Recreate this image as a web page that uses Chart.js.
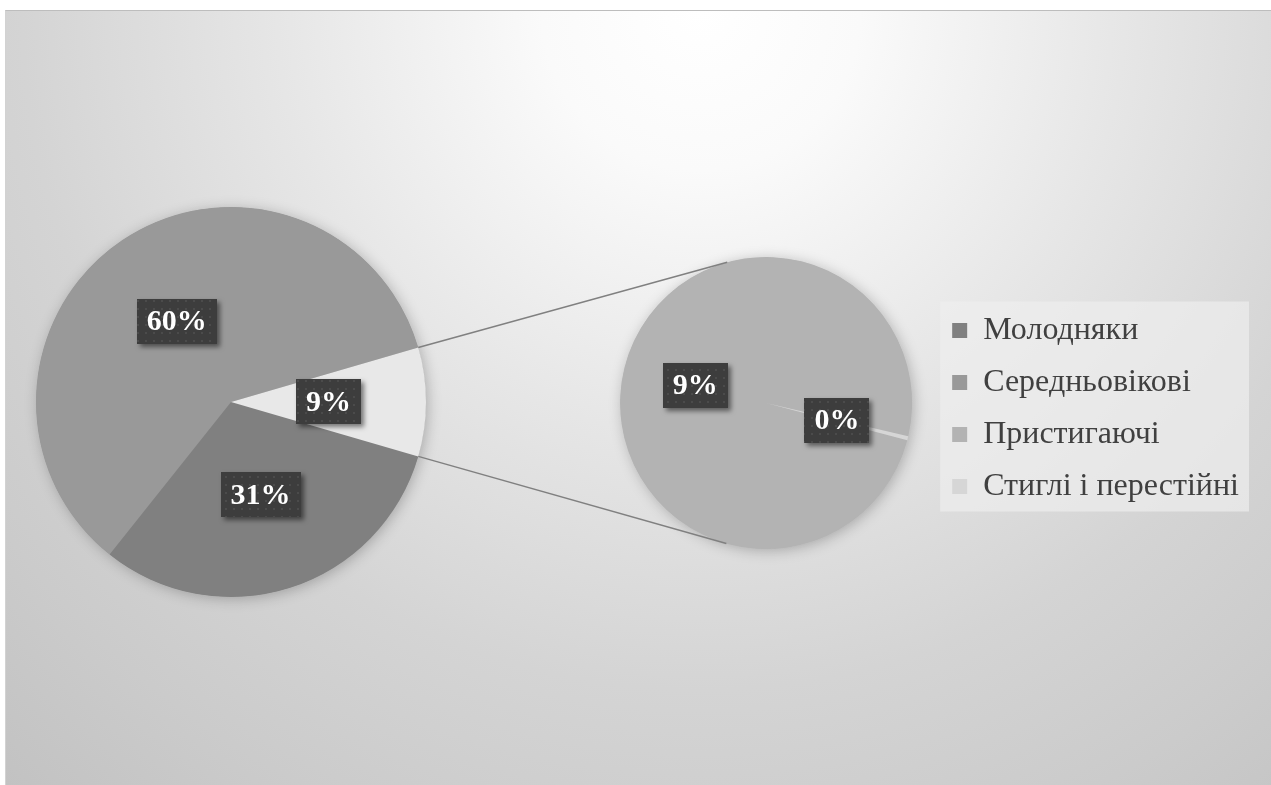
<!DOCTYPE html>
<html lang="uk">
<head>
<meta charset="utf-8">
<title>Розподіл за групами віку</title>
<script src="https://cdn.jsdelivr.net/npm/chart.js@4.4.1/dist/chart.umd.min.js"></script>
<style>
  html, body { margin: 0; padding: 0; background: #fff; overflow: hidden; }
  #stage { position: relative; width: 1271px; height: 785px; }
  #frame {
    position: absolute; left: 5px; top: 10px; width: 1270px; height: 780px;
    border-top: 1px solid #bdbdbd; border-left: 1px solid #d2d2d2;
    background: radial-gradient(circle 1060px at 695px 0px, #ffffff 0%, #fafafa 15%, #e6e6e6 40%, #d4d4d4 64%, #cbcbcb 82%, #c1c1c1 100%);
  }
  .box { position: absolute; }
  #mainBox { left: 6px; top: 177px; width: 450px; height: 450px; }
  #subBox { left: 600px; top: 230px; width: 649px; height: 344px; }
  #links { position: absolute; left: 0; top: 0; width: 1271px; height: 785px; pointer-events: none; }
</style>
</head>
<body>
<div id="stage">
  <div id="frame"></div>
  <div class="box" id="mainBox"><canvas id="mainChart"></canvas></div>
  <div class="box" id="subBox"><canvas id="subChart"></canvas></div>
  <canvas id="links"></canvas>
</div>
<script>
(function () {
  'use strict';

  // дані
  var categories = ['Молодняки', 'Середньовікові', 'Пристигаючі', 'Стиглі і перестійні'];
  var shares = [31.2, 59.8, 8.96, 0.04];
  var sliceColors = ['#808080', '#999999', '#b3b3b3', '#d6d6d6'];
  var otherLabel = 'Інші';
  var otherColor = '#e8e8e8';
  var splitAt = 2; // скільки категорій лишається в основному колі

  var total = shares.reduce(function (a, b) { return a + b; }, 0);
  var subValues = shares.slice(splitAt);
  var otherValue = subValues.reduce(function (a, b) { return a + b; }, 0);
  var mainValues = shares.slice(0, splitAt).concat([otherValue]);
  var mainLabels = categories.slice(0, splitAt).concat([otherLabel]);
  var mainColors = sliceColors.slice(0, splitAt).concat([otherColor]);
  var subLabels = categories.slice(splitAt);
  var subColors = sliceColors.slice(splitAt);

  var serif = '"Liberation Serif", "Times New Roman", serif';
  var textColor = '#404040';

  // крапчастий фон для підписів
  var patCanvas = document.createElement('canvas');
  patCanvas.width = 8; patCanvas.height = 8;
  var pctx = patCanvas.getContext('2d');
  pctx.fillStyle = '#3d3d3d'; pctx.fillRect(0, 0, 8, 8);
  pctx.fillStyle = '#4b4b4b'; pctx.fillRect(3, 3, 2, 2);

  var pct = function (v) { return Math.round(v / total * 100) + '%'; };

  var labelBoxes = {
    id: 'labelBoxes',
    afterDatasetsDraw: function (chart) {
      var ctx = chart.ctx;
      var meta = chart.getDatasetMeta(0);
      var values = chart.data.datasets[0].data;
      ctx.save();
      ctx.font = 'bold 30px ' + serif;
      meta.data.forEach(function (arc, i) {
        var p = arc.tooltipPosition();
        var txt = pct(values[i]);
        var w = ctx.measureText(txt).width + 20, h = 45;
        ctx.save();
        ctx.shadowColor = 'rgba(0,0,0,0.5)';
        ctx.shadowBlur = 5; ctx.shadowOffsetX = 3; ctx.shadowOffsetY = 3;
        ctx.fillStyle = ctx.createPattern(patCanvas, 'repeat');
        ctx.fillRect(Math.round(p.x - w / 2), Math.round(p.y - h / 2), Math.round(w), h);
        ctx.restore();
        ctx.fillStyle = '#ffffff';
        ctx.textAlign = 'center';
        ctx.textBaseline = 'middle';
        ctx.fillText(txt, p.x, p.y + 1);
      });
      ctx.restore();
    }
  };

  // м'яка тінь під колом
  var pieShadow = {
    id: 'pieShadow',
    beforeDatasetsDraw: function (chart) {
      var arc = chart.getDatasetMeta(0).data[0];
      if (!arc) { return; }
      var ctx = chart.ctx;
      ctx.save();
      ctx.shadowColor = 'rgba(0,0,0,0.25)';
      ctx.shadowBlur = 14; ctx.shadowOffsetX = 2; ctx.shadowOffsetY = 2;
      ctx.fillStyle = chart.data.datasets[0].backgroundColor[0];
      ctx.beginPath();
      ctx.arc(arc.x, arc.y, arc.outerRadius - 0.5, 0, Math.PI * 2);
      ctx.fill();
      ctx.restore();
    }
  };

  var legendPanel = {
    id: 'legendPanel',
    beforeDraw: function (chart) {
      var hb = chart.legend && chart.legend.legendHitBoxes;
      if (!hb || !hb.length) { return; }
      var left = hb[0].left, top = hb[0].top, right = 0, bottom = 0;
      hb.forEach(function (b) {
        left = Math.min(left, b.left); top = Math.min(top, b.top);
        right = Math.max(right, b.left + b.width); bottom = Math.max(bottom, b.top + b.height);
      });
      var ctx = chart.ctx;
      ctx.save();
      ctx.fillStyle = 'rgba(238,238,238,0.7)';
      ctx.fillRect(left - 12, top - 13, right - left + 28, bottom - top + 22);
      ctx.restore();
    }
  };

  var base = {
    responsive: true,
    maintainAspectRatio: false,
    animation: false,
    events: []
  };

  var mainChart = new Chart(document.getElementById('mainChart').getContext('2d'), {
    type: 'pie',
    data: {
      labels: mainLabels,
      datasets: [{ data: mainValues, backgroundColor: mainColors, borderWidth: 0 }]
    },
    options: Object.assign({}, base, {
      rotation: 90 + otherValue / total * 180,
      radius: 195,
      plugins: { tooltip: { enabled: false }, legend: { display: false } }
    }),
    plugins: [pieShadow, labelBoxes]
  });

  var subChart = new Chart(document.getElementById('subChart').getContext('2d'), {
    type: 'pie',
    data: {
      labels: subLabels,
      datasets: [{ data: subValues, backgroundColor: subColors, borderWidth: 0 }]
    },
    options: Object.assign({}, base, {
      rotation: 104.8,
      radius: 146,
      layout: { padding: { top: 2 } },
      plugins: {
        tooltip: { enabled: false },
        legend: {
          display: true,
          position: 'right',
          // порожній заголовок лише зсуває пункти легенди трохи вниз
          title: { display: true, text: '', color: textColor, font: { size: 1, lineHeight: 1 }, padding: { top: 5, bottom: 5 } },
          labels: {
            boxWidth: 15,
            boxHeight: 15,
            padding: 20,
            color: textColor,
            font: { family: serif, size: 32 },
            generateLabels: function () {
              return categories.map(function (c, i) {
                return { text: c, fillStyle: sliceColors[i], strokeStyle: sliceColors[i], fontColor: textColor, lineWidth: 0, hidden: false, index: i };
              });
            }
          }
        }
      }
    }),
    plugins: [legendPanel, pieShadow, labelBoxes]
  });

  // лінії між колами
  function drawLinks() {
    var cv = document.getElementById('links');
    var dpr = window.devicePixelRatio || 1;
    cv.width = 1271 * dpr; cv.height = 785 * dpr;
    var ctx = cv.getContext('2d');
    ctx.setTransform(dpr, 0, 0, dpr, 0, 0);
    ctx.clearRect(0, 0, 1271, 785);

    var stage = document.getElementById('stage').getBoundingClientRect();
    var mr = mainChart.canvas.getBoundingClientRect();
    var sr = subChart.canvas.getBoundingClientRect();
    var other = mainChart.getDatasetMeta(0).data[splitAt];
    var sub = subChart.getDatasetMeta(0).data[0];
    if (!other || !sub) { return; }

    var ox = mr.left - stage.left + other.x, oy = mr.top - stage.top + other.y, R = other.outerRadius;
    var cx = sr.left - stage.left + sub.x, cy = sr.top - stage.top + sub.y, r = sub.outerRadius;

    var ends = [
      { a: other.startAngle, sign: 1 },
      { a: other.endAngle, sign: -1 }
    ];
    ctx.strokeStyle = '#808080';
    ctx.lineWidth = 1.5;
    ends.forEach(function (e) {
      var px = ox + R * Math.cos(e.a), py = oy + R * Math.sin(e.a);
      var d = Math.hypot(px - cx, py - cy);
      var t = Math.atan2(py - cy, px - cx) + e.sign * Math.acos(r / d);
      ctx.beginPath();
      ctx.moveTo(px, py);
      ctx.lineTo(cx + r * Math.cos(t), cy + r * Math.sin(t));
      ctx.stroke();
    });
  }
  drawLinks();
  window.addEventListener('load', drawLinks);
  window.addEventListener('resize', drawLinks);
})();
</script>
</body>
</html>
